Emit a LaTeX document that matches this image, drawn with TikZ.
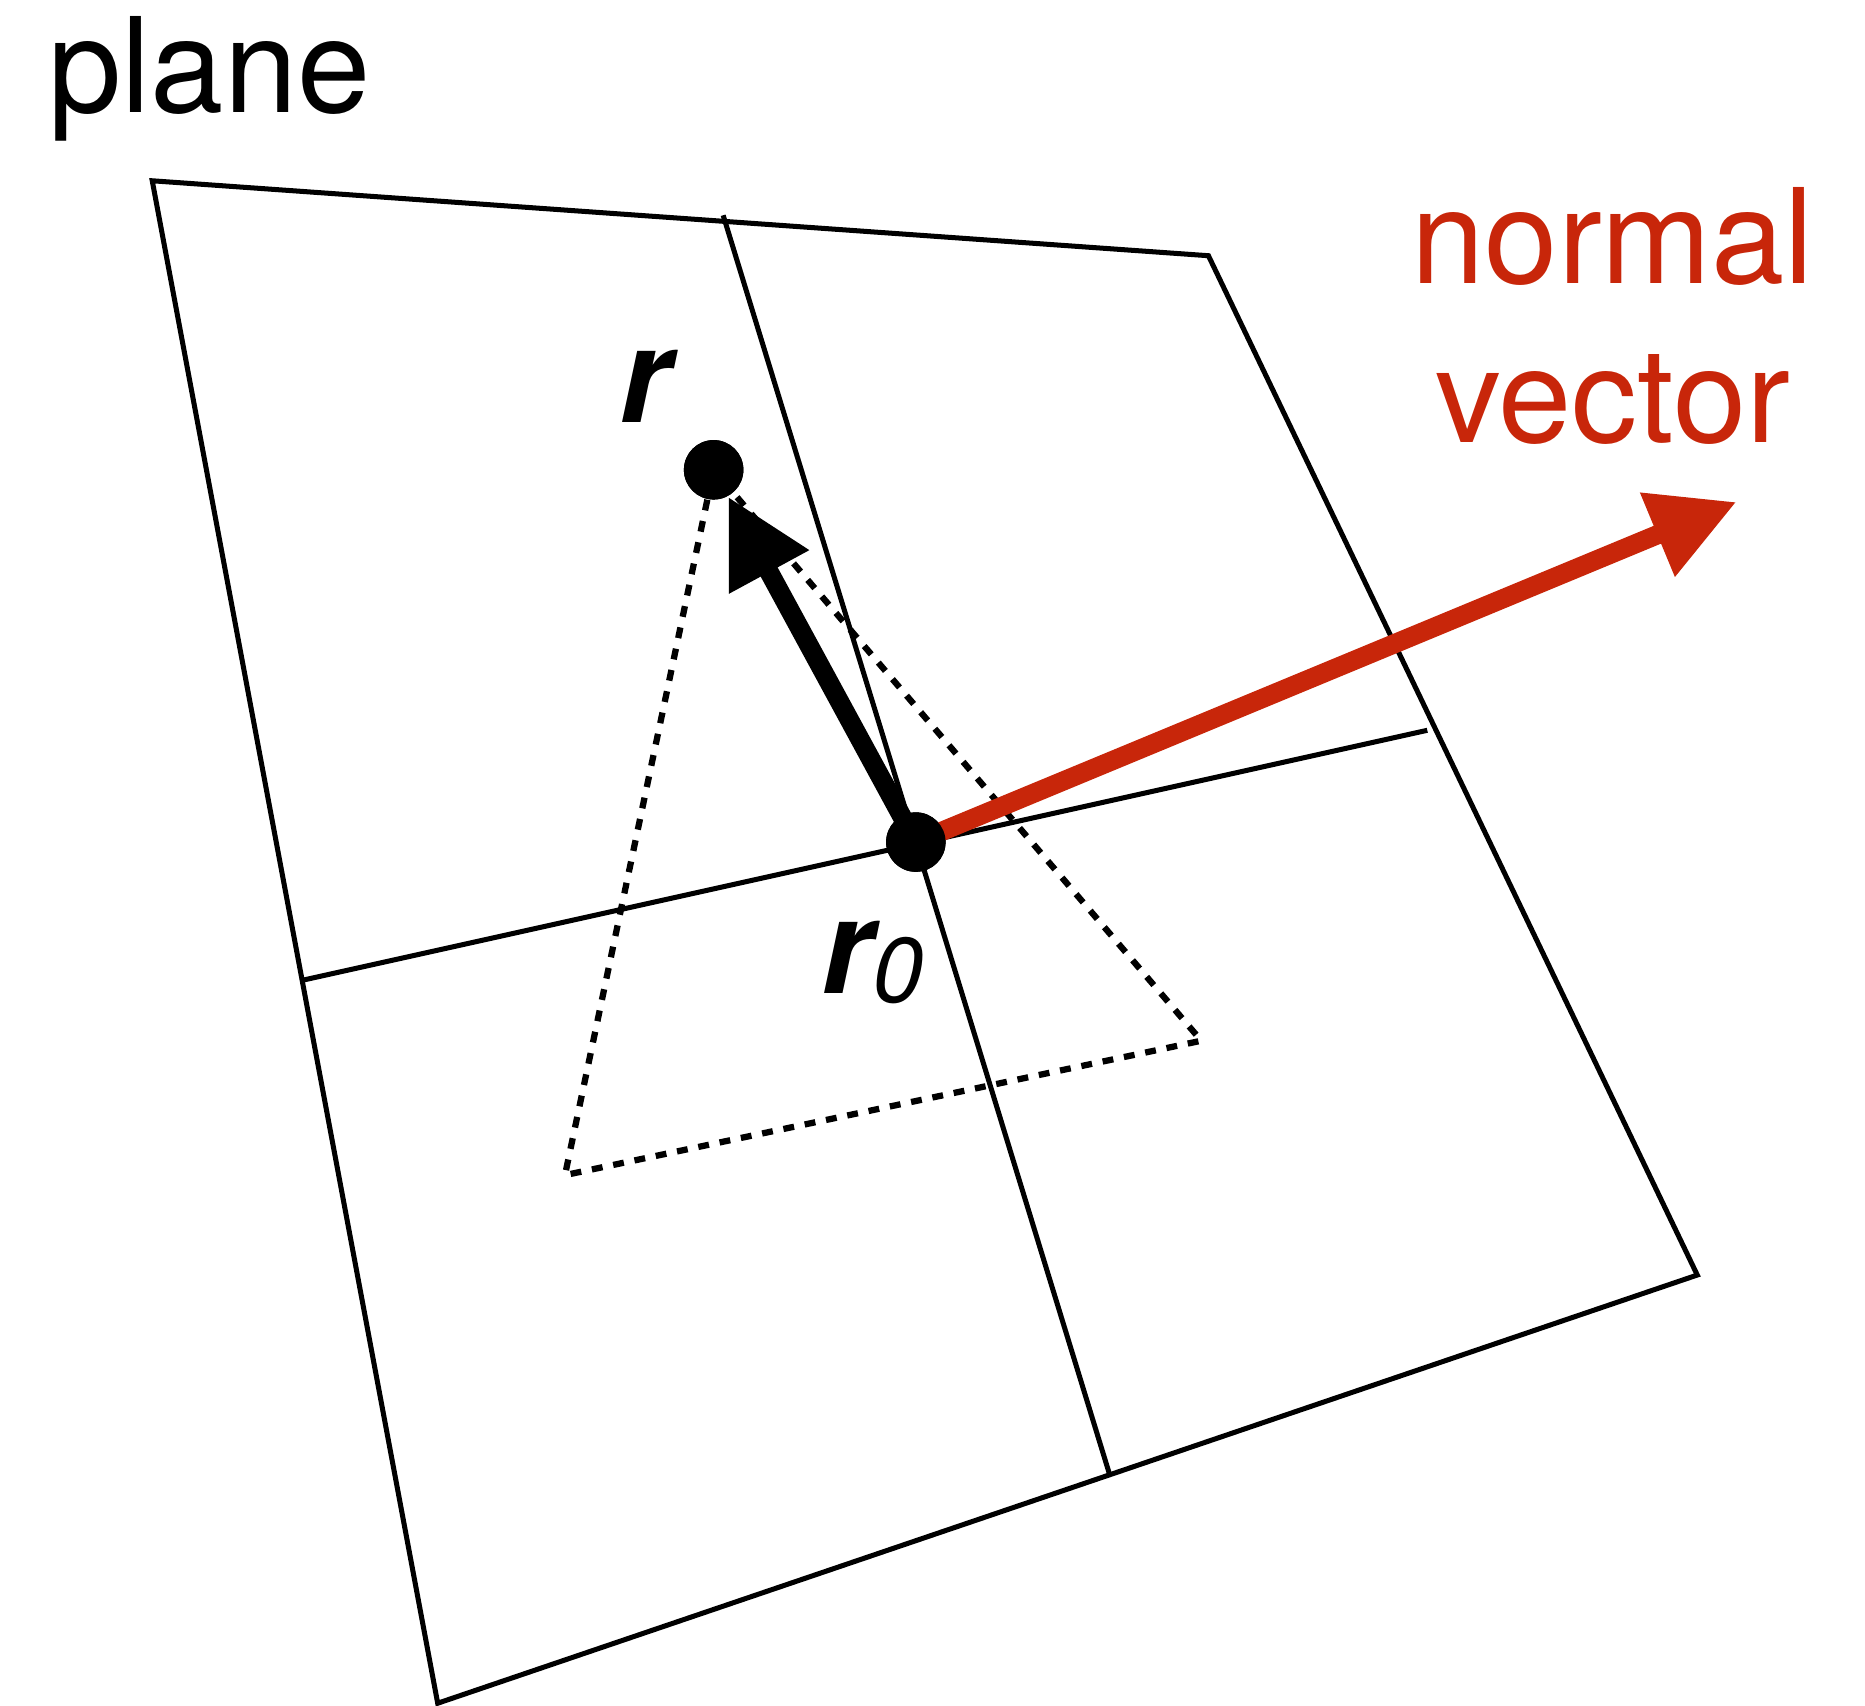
\documentclass[tikz,border=0pt]{standalone}
\usepackage{fontspec}
\setmainfont{TeX Gyre Heros}
\usetikzlibrary{arrows.meta}
\definecolor{nred}{RGB}{200,38,10}
\begin{document}
\begin{tikzpicture}[x=0.01cm,y=-0.01cm,
  edge/.style={line width=1.2pt, line join=miter},
  dotline/.style={line width=1.5pt, dash pattern=on 2.6pt off 2.6pt},
  dot/.style={circle, fill=black, inner sep=0pt, minimum size=0.5cm},
  vec/.style={line width=4.6pt, -{Triangle[length=0.72cm,width=0.72cm]}},
  lbl/.style={inner sep=0pt, font=\fontsize{31.5}{36}\selectfont}]
\useasboundingbox (0,0) rectangle (1568,1434);
% plane corners
\coordinate (tl) at (128,152);
\coordinate (tr) at (1016,215);
\coordinate (br) at (1427,1072);
\coordinate (bl) at (368,1432);
% axis ends
\coordinate (at) at (608,181);
\coordinate (ab) at (933,1240);
\coordinate (al) at (255,824);
\coordinate (ar) at (1200,614);
% dotted triangle
\coordinate (d1) at (475,988);
\coordinate (d2) at (1010,875);
% normal tip
\coordinate (ntip) at (1460,422);
% points
\node[dot] (r) at (600,395) {};
\node[dot] (r0) at (770,708) {};
\draw[edge] (tl) -- (tr) -- (br) -- (bl) -- cycle;
\draw[edge] (at) -- (ab);
\draw[edge] (al) -- (ar);
\draw[dotline] (r) -- (d1) -- (d2) -- (r);
\draw[vec, draw=nred, fill=nred] (r0.center) -- (ntip);
\draw[vec] (r0.center) -- (r);
\node[dot] at (r) {};
\node[dot] at (r0) {};
% labels
\node[lbl, anchor=base west] (plane) at (40,95) {plane};
\node[lbl, anchor=base, text=nred] (nl1) at (1356,238) {normal};
\node[lbl, anchor=base, text=nred] (nl2) at (1356,372) {vector};
\node[lbl, anchor=base west] (rl) at (520,355) {\bfseries\itshape r};
\node[lbl, anchor=base west] (r0l) at (690,835) {\bfseries\itshape r{\mdseries\fontsize{22}{24}\selectfont\raisebox{-2.2pt}{0}}};
\end{tikzpicture}
\end{document}
